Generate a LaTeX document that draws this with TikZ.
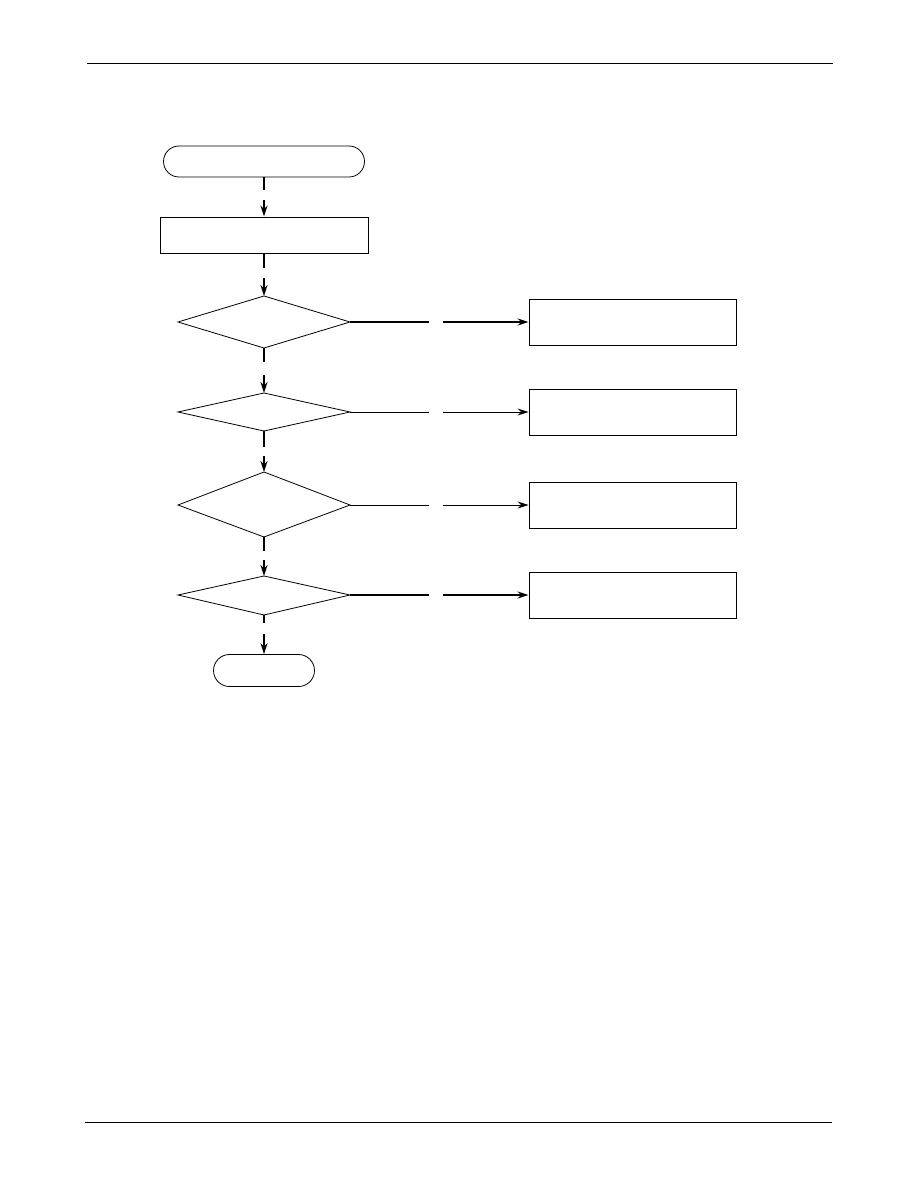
\documentclass[tikz,border=0pt]{standalone}
\usetikzlibrary{shapes.geometric,shapes.misc,arrows.meta}
\begin{document}
\begin{tikzpicture}[x=1pt,y=-1pt,
  term/.style={draw,rounded rectangle,line width=0.8pt,inner sep=0pt},
  procbox/.style={draw,rectangle,line width=0.9pt,inner sep=0pt},
  conn/.style={line width=1.8pt},
  connthin/.style={line width=1pt},
  arr/.style={-{Stealth[length=11pt,width=7pt]}}
]
\useasboundingbox (0,0) rectangle (918,1188);
% header / footer rules
\coordinate (hl) at (87,64); \coordinate (hr) at (833,64);
\coordinate (fl) at (85,1122); \coordinate (fr) at (832,1122);
\draw[line width=1pt] (hl) -- (hr);
\draw[line width=1pt] (fl) -- (fr);
% nodes
\node[term,minimum width=201pt,minimum height=31pt] (start) at (264,161.5) {};
\node[procbox,minimum width=208pt,minimum height=36pt] (init) at (264,235) {};
\draw[line width=0.8pt] (178,322) -- (264,296) -- (350,322) -- (264,348) -- cycle;
\coordinate (d1t) at (264,296); \coordinate (d1b) at (264,348); \coordinate (d1r) at (350,322);
\draw[line width=0.8pt] (178,412) -- (264,393) -- (350,412) -- (264,431) -- cycle;
\coordinate (d2t) at (264,393); \coordinate (d2b) at (264,431); \coordinate (d2r) at (350,412);
\draw[line width=0.8pt] (178,505) -- (264,472) -- (350,505) -- (264,537) -- cycle;
\coordinate (d3t) at (264,472); \coordinate (d3b) at (264,537); \coordinate (d3r) at (350,505);
\draw[line width=0.8pt] (178,595) -- (264,576) -- (350,595) -- (264,615) -- cycle;
\coordinate (d4t) at (264,576); \coordinate (d4b) at (264,615); \coordinate (d4r) at (350,595);
\node[procbox,minimum width=207pt,minimum height=46pt] (b1) at (632.5,322) {};
\node[procbox,minimum width=207pt,minimum height=46pt] (b2) at (632.5,412) {};
\node[procbox,minimum width=207pt,minimum height=46pt] (b3) at (632.5,505) {};
\node[procbox,minimum width=207pt,minimum height=46pt] (b4) at (632.5,595) {};
\node[term,minimum width=101pt,minimum height=32pt] (stop) at (264,670.5) {};
% vertical connectors (interrupted)
\coordinate (g1a) at (264,190); \coordinate (g1b) at (264,200);
\draw[conn] (start.south) -- (g1a);
\draw[conn,arr] (g1b) -- (init.north);
\coordinate (g2a) at (264,268); \coordinate (g2b) at (264,278);
\draw[conn] (init.south) -- (g2a);
\draw[conn,arr] (g2b) -- (d1t);
\coordinate (g3a) at (264,362); \coordinate (g3b) at (264,375);
\draw[conn] (d1b) -- (g3a);
\draw[conn,arr] (g3b) -- (d2t);
\coordinate (g4a) at (264,447); \coordinate (g4b) at (264,456);
\draw[conn] (d2b) -- (g4a);
\draw[conn,arr] (g4b) -- (d3t);
\coordinate (g5a) at (264,551); \coordinate (g5b) at (264,560);
\draw[conn] (d3b) -- (g5a);
\draw[conn,arr] (g5b) -- (d4t);
\coordinate (g6a) at (264,623); \coordinate (g6b) at (264,634);
\draw[conn] (d4b) -- (g6a);
\draw[conn,arr] (g6b) -- (stop.north);
% horizontal connectors (interrupted)
\coordinate (h1a) at (429,322); \coordinate (h1b) at (443,322);
\draw[conn] (d1r) -- (h1a);
\draw[conn,arr] (h1b) -- (b1.west);
\coordinate (h2a) at (429,412); \coordinate (h2b) at (443,412);
\draw[connthin] (d2r) -- (h2a);
\draw[connthin,arr] (h2b) -- (b2.west);
\coordinate (h3a) at (429,505); \coordinate (h3b) at (443,505);
\draw[connthin] (d3r) -- (h3a);
\draw[connthin,arr] (h3b) -- (b3.west);
\coordinate (h4a) at (429,595); \coordinate (h4b) at (443,595);
\draw[conn] (d4r) -- (h4a);
\draw[conn,arr] (h4b) -- (b4.west);
\end{tikzpicture}
\end{document}
